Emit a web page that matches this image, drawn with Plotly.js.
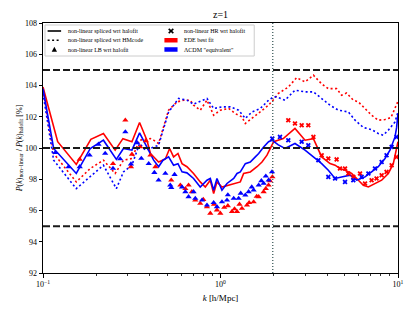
<!DOCTYPE html>
<html><head><meta charset="utf-8">
<script src="https://cdn.plot.ly/plotly-3.0.1.min.js"></script>
<style>html,body{margin:0;padding:0;background:#fff}#chart{width:414px;height:311px}</style>
</head><body><div id="chart"></div>
<script>
// ---- data ----
const kRedSolid = [0.1,0.121,0.154,0.186,0.219,0.255,0.282,0.317,0.350,0.385,0.403,0.448,0.489,0.517,0.544,0.576,0.607,0.647,0.705,0.769,0.821,0.876,0.915,0.955,1.019,1.088,1.187,1.293,1.35,1.472,1.606,1.713,1.828,1.909,1.992,2.258,2.628,2.994,3.337,3.716,4.14,4.42,4.71,5.03,5.48,5.85,6.38,6.81,7.42,8.09,8.82,9.41,10];
const pRedSolid = [103.9,100.4,98.95,100.56,100.93,99.86,100.6,100.4,101.63,100.5,99.65,99.1,99.3,99.97,99.43,99.65,99.0,98.8,98.37,97.83,97.5,97.94,97.09,97.83,97.5,97.6,97.73,97.83,98.37,98.47,98.8,99.1,99.54,99.97,100.4,100.6,101.25,100.5,100.6,99.43,99.0,98.9,98.69,98.58,98.37,98.05,97.62,97.51,97.73,97.94,98.37,99.0,100.4];

const kBlueSolid = [0.1,0.1148,0.154,0.1846,0.219,0.259,0.284,0.317,0.350,0.394,0.420,0.448,0.474,0.510,0.544,0.576,0.607,0.647,0.705,0.769,0.839,0.876,0.915,0.955,1.019,1.088,1.187,1.239,1.293,1.380,1.472,1.571,1.641,1.750,1.866,1.95,2.117,2.308,2.628,2.994,3.337,3.716,4.05,4.42,4.81,5.37,5.85,6.52,7.10,7.74,8.45,9.01,9.62,9.82,10];
const pBlueSolid = [103.8,99.97,98.37,99.97,100.5,99.27,99.97,99.86,100.97,99.86,99.22,98.8,99.22,99.43,98.9,99.0,98.47,98.41,98.05,97.5,97.94,98.05,97.3,98.05,97.3,97.73,98.05,98.37,98.47,99.0,99.1,99.43,99.65,100.07,100.4,100.5,100.2,99.97,100.29,99.86,99.43,99.0,98.58,98.05,98.15,98.26,97.94,98.15,98.47,98.8,99.33,99.86,100.71,101.3,102.2];

const kRedDotted = [0.1,0.1148,0.154,0.1846,0.219,0.255,0.284,0.317,0.350,0.403,0.420,0.448,0.510,0.569,0.620,0.676,0.705,0.769,0.839,0.915,0.998,1.112,1.212,1.321,1.380,1.504,1.676,1.866,1.992,2.117,2.409,2.684,2.994,3.337,3.716,4.05,4.51,4.81,5.13,5.60,5.98,6.52,7.10,7.74,8.45,9.13,9.82,10];
const pRedDotted = [103.7,99.65,97.83,98.69,99.22,98.37,99.22,99.33,100.5,100.6,100.5,100.29,102.42,102.95,103.06,103.06,102.74,102.42,103.06,102.1,102.42,102.53,102.2,101.99,101.57,101.89,102.31,102.74,103.1,103.49,103.9,104.5,104.23,104.66,104.1,103.8,103.8,103.38,103.52,103.06,102.95,102.53,102.1,101.78,101.82,101.95,102.74,103.0];

const kBlueDotted = [0.1,0.1148,0.154,0.1846,0.219,0.259,0.284,0.317,0.350,0.377,0.448,0.510,0.581,0.647,0.705,0.839,0.915,1.019,1.136,1.265,1.380,1.504,1.676,1.866,1.992,2.07,2.308,2.628,2.994,3.337,3.716,4.14,4.61,5.25,5.73,6.38,7.10,7.74,8.26,8.82,9.62,10];
const pBlueDotted = [103.5,99.22,97.4,98.15,98.9,97.4,98.47,98.9,100.29,99.86,100.18,102.3,103.17,103.06,102.8,103.17,102.53,102.63,102.63,102.42,101.89,102.31,102.53,103.06,103.27,103.27,103.06,103.7,103.59,103.59,103.17,102.74,102.42,102.31,101.78,101.31,101.18,100.93,100.82,101.14,101.67,102.31];

const kRedTri = [0.161,0.248,0.291,0.313,0.317,0.353,0.38,0.403,0.43,0.528,0.594,0.634,0.661,0.69,0.721,0.769,0.8,0.839,0.876,0.92,0.955,0.998,1.05,1.1,1.161,1.2,1.239,1.28,1.321,1.41,1.45,1.537,1.6,1.641,1.75,1.8,1.866,1.9,1.96];
const pRedTri = [99.28,99.0,101.78,98.8,99.6,100.07,100.45,99.54,98.8,97.94,97.62,97.4,97.62,97.2,96.66,96.45,96.7,96.24,95.82,96.4,96.03,95.82,96.2,96.3,95.93,96.1,95.93,96.4,96.13,96.34,96.5,96.55,96.9,96.88,97.2,97.4,97.62,97.9,98.15];

const kBlueTri = [0.1173,0.1393,0.161,0.183,0.2055,0.224,0.248,0.272,0.291,0.313,0.339,0.358,0.394,0.424,0.448,0.489,0.521,0.528,0.551,0.607,0.634,0.661,0.705,0.721,0.787,0.839,0.915,0.955,1.019,1.088,1.1,1.187,1.265,1.3,1.38,1.44,1.5,1.537,1.641,1.7,1.75,1.8,1.866,1.95];
const pBlueTri = [99.7,98.8,98.8,99.54,100.24,99.65,98.69,99.3,101.03,98.97,100.33,99.33,99.0,98.43,97.94,98.37,97.62,97.47,98.3,97.5,97.2,96.88,97.2,96.77,96.66,96.34,96.5,96.24,96.55,96.66,97.0,96.77,96.77,97.1,96.98,97.2,97.5,97.3,97.62,97.9,97.73,98.2,97.94,98.47];

const kRedX = [2.409,2.628,2.866,3.124,3.337,3.716,4.05,4.51,4.71,5.03,5.25,5.60,6.11,6.52,7.10,7.57,8.09,8.62,9.21,9.82];
const pRedX = [101.78,101.57,101.46,101.46,100.71,99.54,99.33,99.27,98.69,98.69,98.37,98.15,98.37,97.73,97.94,98.05,98.26,98.47,98.9,99.43];

const kBlueX = [1.958,2.163,2.409,2.866,3.124,3.56,4.05,4.42,5.03,5.60,6.24,6.81,7.42,8.09,8.62,9.21,9.82];
const pBlueX = [100.6,100.71,100.5,100.4,100.18,99.22,98.15,98.05,97.83,97.94,98.15,98.37,98.69,99.1,99.54,100.07,100.71];

const refLevels = [95, 100, 105];
const kDivide = 1.97;
const xRange = [0.1, 10];
const yRange = [92, 108];
const xTickVals = [0.1, 1, 10];
const xTickText = ['10<sup>\u22121</sup>', '10<sup>0</sup>', '10<sup>1</sup>'];
const xMinorVals = [0.2,0.3,0.4,0.5,0.6,0.7,0.8,0.9,2,3,4,5,6,7,8,9];
const yTickVals = [92,94,96,98,100,102,104,106,108];
const yTickText = yTickVals.map(String);

const legendLeft = ['non-linear spliced wrt halofit', 'non-linear spliced wrt HMcode', 'non-linear LB wrt halofit'];
const legendRight = ['non-linear HR wrt halofit', 'EDE best fit', '\u039BCDM "equivalent"'];

const RED = '#ff0000', BLUE = '#0000ff';

// ---- traces ----
const traces = [];
function line(k, p, color, dash) {
  traces.push({x: k, y: p, type: 'scatter', mode: 'lines',
    line: {color: color, width: 1.6, dash: dash}, hoverinfo: 'skip'});
}
function marks(k, p, color, symbol, size) {
  traces.push({x: k, y: p, type: 'scatter', mode: 'markers',
    marker: {color: color, symbol: symbol, size: size, line: {width: 0}}, hoverinfo: 'skip'});
}
line(kRedDotted, pRedDotted, RED, '2px,2.5px');
line(kBlueDotted, pBlueDotted, BLUE, '2px,2.5px');
line(kRedSolid, pRedSolid, RED, 'solid');
line(kBlueSolid, pBlueSolid, BLUE, 'solid');
marks(kRedTri, pRedTri, RED, 'triangle-up', 5.5);
marks(kBlueTri, pBlueTri, BLUE, 'triangle-up', 5.5);
marks(kRedX, pRedX, RED, 'x', 4.5);
marks(kBlueX, pBlueX, BLUE, 'x', 4.5);
refLevels.forEach(v => traces.push({x: xRange, y: [v, v], type: 'scatter', mode: 'lines',
  line: {color: '#1a1a1a', width: 2, dash: '7px,3px'}, hoverinfo: 'skip'}));
traces.push({x: [kDivide, kDivide], y: yRange, type: 'scatter', mode: 'lines',
  line: {color: '#2f4f4f', width: 1.2, dash: '1px,2px'}, hoverinfo: 'skip'});

// ---- manual legend (paper coordinates) ----
const shapes = [], annotations = [];
const rowY = [0.968, 0.931, 0.894];
const col1Sym = [0.013, 0.051], col1Text = 0.066;
const col2Sym = 0.3606, col2Text = 0.3915;
shapes.push({type: 'rect', xref: 'paper', yref: 'paper', x0: 0.0056, x1: 0.595, y0: 0.868, y1: 0.992,
  line: {color: '#cccccc', width: 1}, fillcolor: 'rgba(255,255,255,0.85)', layer: 'above'});
shapes.push({type: 'line', xref: 'paper', yref: 'paper', x0: col1Sym[0], x1: col1Sym[1], y0: rowY[0], y1: rowY[0],
  line: {color: '#000', width: 1.6}});
shapes.push({type: 'line', xref: 'paper', yref: 'paper', x0: col1Sym[0], x1: col1Sym[1], y0: rowY[1], y1: rowY[1],
  line: {color: '#000', width: 1.6, dash: '2px,2.5px'}});
const tc = (col1Sym[0] + col1Sym[1]) / 2;
shapes.push({type: 'path', xref: 'paper', yref: 'paper',
  path: `M ${tc - 0.0075} ${rowY[2] - 0.009} L ${tc + 0.0075} ${rowY[2] - 0.009} L ${tc} ${rowY[2] + 0.011} Z`,
  fillcolor: '#000', line: {width: 0}});
const xs = 0.0065, ys = 0.0085;
shapes.push({type: 'path', xref: 'paper', yref: 'paper',
  path: `M ${col2Sym - xs} ${rowY[0] - ys} L ${col2Sym + xs} ${rowY[0] + ys} M ${col2Sym - xs} ${rowY[0] + ys} L ${col2Sym + xs} ${rowY[0] - ys}`,
  line: {color: '#000', width: 1.6}});
shapes.push({type: 'rect', xref: 'paper', yref: 'paper', x0: 0.342, x1: 0.379, y0: rowY[1] - 0.009, y1: rowY[1] + 0.009,
  fillcolor: RED, line: {width: 0}});
shapes.push({type: 'rect', xref: 'paper', yref: 'paper', x0: 0.342, x1: 0.379, y0: rowY[2] - 0.009, y1: rowY[2] + 0.009,
  fillcolor: BLUE, line: {width: 0}});
legendLeft.forEach((t, i) => annotations.push({xref: 'paper', yref: 'paper', x: col1Text, y: rowY[i], text: t,
  showarrow: false, xanchor: 'left', yanchor: 'middle', font: {size: 6, color: '#000'}}));
legendRight.forEach((t, i) => annotations.push({xref: 'paper', yref: 'paper', x: col2Text, y: rowY[i], text: t,
  showarrow: false, xanchor: 'left', yanchor: 'middle', font: {size: 6, color: '#000'}}));

const layout = {
  width: 414, height: 311,
  margin: {l: 43, r: 16, t: 23, b: 38, pad: 0},
  paper_bgcolor: '#ffffff', plot_bgcolor: '#ffffff',
  showlegend: false,
  font: {family: '"Liberation Serif", "DejaVu Serif", serif', color: '#000'},
  title: {text: 'z=1', x: 0.5, xref: 'paper', xanchor: 'center', y: 1 - 14 / 311, yanchor: 'middle', yref: 'container', font: {size: 10}},
  xaxis: {type: 'log', range: [Math.log10(xRange[0]), Math.log10(xRange[1])], tickmode: 'array',
    tickvals: xTickVals, ticktext: xTickText, ticks: 'outside', ticklen: 3.5, tickwidth: 1, tickcolor: '#000',
    showline: true, mirror: true, linecolor: '#000', linewidth: 1, showgrid: false, zeroline: false,
    tickfont: {size: 8},
    minor: {tickmode: 'array', tickvals: xMinorVals, ticks: 'outside', ticklen: 2, tickwidth: 0.8, tickcolor: '#000', showgrid: false},
    title: {text: '<i>k</i> [h/Mpc]', font: {size: 9}, standoff: 6}},
  yaxis: {range: yRange, tickmode: 'array', tickvals: yTickVals, ticktext: yTickText,
    ticks: 'outside', ticklen: 3.5, tickwidth: 1, tickcolor: '#000',
    showline: true, mirror: true, linecolor: '#000', linewidth: 1, showgrid: false, zeroline: false,
    tickfont: {size: 8},
    title: {text: '<i>P</i>(<i>k</i>)<sub>non\u2212linear</sub> / <i>P</i>(<i>k</i>)<sub>halofit</sub> [%]', font: {size: 8}, standoff: 1}},
  shapes: shapes,
  annotations: annotations
};

Plotly.newPlot('chart', traces, layout, {displayModeBar: false, staticPlot: true});
</script>
</body></html>
